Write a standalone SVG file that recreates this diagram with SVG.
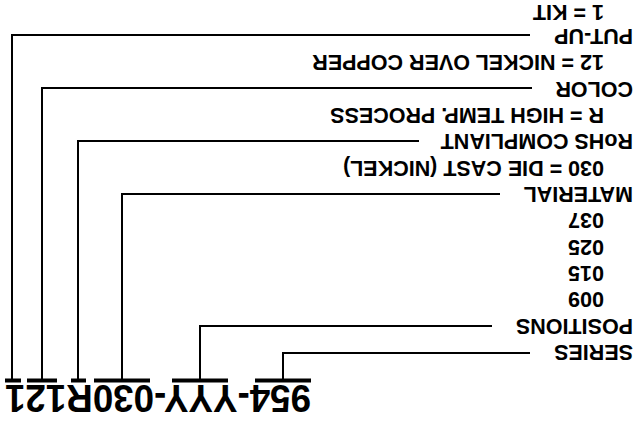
<svg xmlns="http://www.w3.org/2000/svg" width="638" height="422" viewBox="0 0 638 422">
<style>
.lbl{font-family:"Liberation Sans",Arial,sans-serif;font-weight:bold;font-size:21.5px;fill:#000}
.pn{font-family:"Liberation Sans",Arial,sans-serif;font-weight:bold;font-size:38px;fill:#000}
.ln{fill:none;stroke:#000;stroke-width:2;stroke-linejoin:miter}
.bar{fill:#000}
</style>
<rect width="638" height="422" fill="#fff"/>
<g transform="rotate(180 319 211)">
<g id="partnumber">
<text class="pn" x="327" y="37.5" textLength="306" lengthAdjust="spacingAndGlyphs">954-YYY-030R121</text>
<rect class="bar" x="327" y="39.5" width="56" height="4"/>
<rect class="bar" x="410" y="39.5" width="56" height="4"/>
<rect class="bar" x="488" y="39.5" width="56" height="4"/>
<rect class="bar" x="552" y="39.5" width="15" height="4"/>
<rect class="bar" x="581" y="39.5" width="30" height="4"/>
<rect class="bar" x="617" y="39.5" width="16" height="4"/>
</g>
<g id="connectors">
<path class="ln" d="M355 42V69H108"/>
<path class="ln" d="M438 42V96H146"/>
<path class="ln" d="M516 42V228H138"/>
<path class="ln" d="M560 42V281H219"/>
<path class="ln" d="M596 42V334H106"/>
<path class="ln" d="M626 42V387H108"/>
</g>
<g id="series"><text class="lbl" x="5" y="77">SERIES</text></g>
<g id="positions">
<text class="lbl" x="5" y="103.3">POSITIONS</text>
<text class="lbl" x="34" y="129.7">009</text>
<text class="lbl" x="34" y="156">015</text>
<text class="lbl" x="34" y="182.4">025</text>
<text class="lbl" x="34" y="208.7">037</text>
</g>
<g id="material">
<text class="lbl" x="5" y="235.1">MATERIAL</text>
<text class="lbl" x="34" y="261.4">030 = DIE CAST (NICKEL)</text>
</g>
<g id="rohs">
<text class="lbl" x="5" y="287.8">RoHS COMPLIANT</text>
<text class="lbl" x="34" y="314.1">R = HIGH TEMP. PROCESS</text>
</g>
<g id="color">
<text class="lbl" x="5" y="340.5">COLOR</text>
<text class="lbl" x="34" y="366.8">12 = NICKEL OVER COPPER</text>
</g>
<g id="putup">
<text class="lbl" x="5" y="393.2">PUT-UP</text>
<text class="lbl" x="34" y="417.3">1 = KIT</text>
</g>
</g>
</svg>
